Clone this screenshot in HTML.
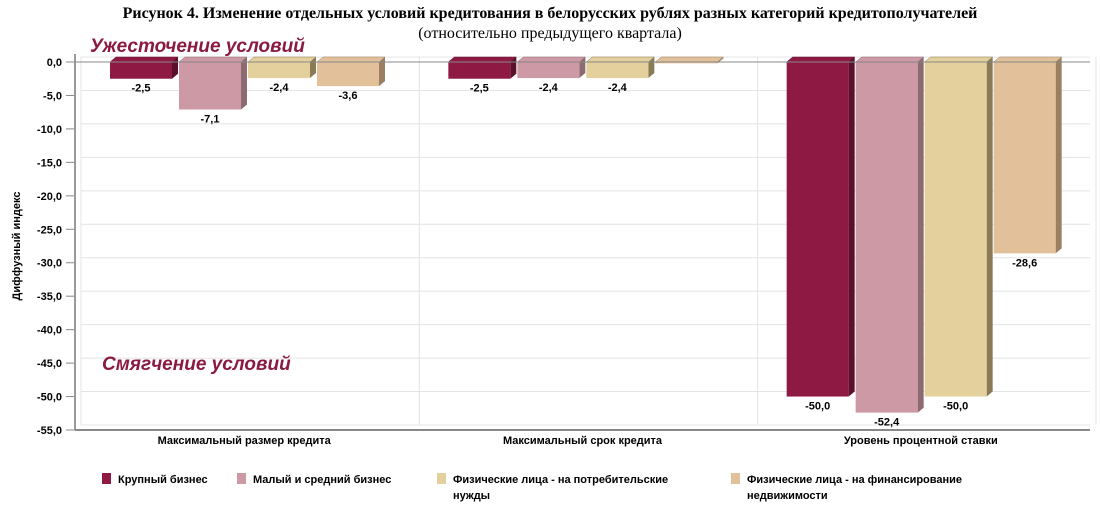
<!DOCTYPE html>
<html><head><meta charset="utf-8"><style>
body{margin:0;background:#fff;width:1100px;height:504px;overflow:hidden;font-family:"Liberation Sans",sans-serif}
svg text{font-family:"Liberation Sans",sans-serif}
</style></head><body>
<svg width="1100" height="504">
<text x="550" y="18" text-anchor="middle" font-family="Liberation Serif" font-weight="bold" font-size="16" style="font-family:'Liberation Serif',serif">Рисунок 4. Изменение отдельных условий кредитования в белорусских рублях разных категорий кредитополучателей</text>
<text x="550" y="38" text-anchor="middle" font-size="16" style="font-family:'Liberation Serif',serif">(относительно предыдущего квартала)</text>
<g id="grid"></g><g id="bars"></g><g id="axes"></g>
<text x="90" y="52" font-size="19" font-weight="bold" font-style="italic" fill="#8b1a42">Ужесточение условий</text>
<text x="102" y="370" font-size="19" font-weight="bold" font-style="italic" fill="#8b1a42">Смягчение условий</text>
<text transform="translate(20,246) rotate(-90)" text-anchor="middle" font-size="11" font-weight="bold">Диффузный индекс</text>
<g id="legend"></g>
</svg>
<script>
const categories=["Максимальный размер кредита","Максимальный срок кредита","Уровень процентной ставки"];
const seriesNames=["Крупный бизнес","Малый и средний бизнес","Физические лица - на потребительские|нужды","Физические лица - на финансирование|недвижимости"];
const s1=[-2.5,-2.5,-50.0];
const s2=[-7.1,-2.4,-52.4];
const s3=[-2.4,-2.4,-50.0];
const s4=[-3.6,-0.2,-28.6];
const yTicks=[0,-5,-10,-15,-20,-25,-30,-35,-40,-45,-50,-55];
const series=[s1,s2,s3,s4];
const colors=["#8e1a44","#cc99a5","#e3d09c","#e2c09a"];
const dark=["#5a0f2a","#8d6a72","#8a7a55","#9a8060"];
const NS="http://www.w3.org/2000/svg";
const L=75,R=1090,Y0=62,YB=430,dx=6,dy=5;
const y=v=>Y0+(0-v)*(YB-Y0)/55;
const gw=(R-L)/categories.length;
const bx=(c,i)=>L+c*gw+35+i*69;
function mk(p,t,a){const e=document.createElementNS(NS,t);for(const k in a)e.setAttribute(k,a[k]);p.appendChild(e);return e;}
const grid=document.getElementById('grid'),bars=document.getElementById('bars'),axes=document.getElementById('axes'),lg=document.getElementById('legend');
yTicks.forEach(t=>{
 const l=mk(grid,'line',{x1:L+dx,x2:R,y1:y(t)-dy,y2:y(t)-dy,stroke:'#e4e4e4'});
 
 
 const tx=mk(axes,'text',{x:62,y:y(t)+4,'text-anchor':'end','font-size':11,'font-weight':'bold'});
 tx.textContent=t.toFixed(1).replace('.',',');
 
 
 mk(axes,'line',{x1:66,x2:L,y1:y(t),y2:y(t),stroke:'#888'});
});
for(let c=0;c<=3;c++){const l=mk(grid,'line',{x1:L+c*gw+dx,x2:L+c*gw+dx,y1:Y0-dy,y2:YB-dy,stroke:'#e4e4e4'});}
mk(axes,'line',{x1:L,x2:L,y1:Y0-8,y2:YB,stroke:'#999','stroke-width':2});
mk(axes,'line',{x1:L,x2:R,y1:YB,y2:YB,stroke:'#888','stroke-width':2});
mk(axes,'line',{x1:L,x2:R,y1:Y0,y2:Y0,stroke:'#888'});
categories.forEach((c,ci)=>{
 const t=mk(axes,'text',{x:L+ci*gw+gw/2,y:YB+14,'text-anchor':'middle','font-size':11,'font-weight':'bold'});
 t.textContent=c;
 
 
 series.forEach((s,i)=>{
  const v=s[ci],x=bx(ci,i),w=62,top=y(0),bot=y(v);
  const g=mk(bars,'g',{});
  
  
  mk(g,'polygon',{points:`${x+w},${top} ${x+w+dx},${top-dy} ${x+w+dx},${bot-dy} ${x+w},${bot}`,fill:dark[i]});
  mk(g,'polygon',{points:`${x},${top} ${x+dx},${top-dy} ${x+w+dx},${top-dy} ${x+w},${top}`,fill:colors[i],stroke:dark[i],'stroke-width':0.5});
  mk(g,'rect',{x:x,y:top,width:w,height:Math.max(0,bot-top),fill:colors[i]});
  if(v<-1){const lb=mk(g,'text',{x:x+w/2,y:bot+13,'text-anchor':'middle','font-size':11,'font-weight':'bold'});lb.textContent=v.toFixed(1).replace('.',',');
  
  }
 });
});
const lx=[102,237,437,731];
seriesNames.forEach((n,i)=>{
 const g=mk(lg,'g',{});
 
 
 mk(g,'rect',{x:lx[i],y:473,width:9,height:11,fill:colors[i]});
 n.split('|').forEach((p,k)=>{const t=mk(g,'text',{x:lx[i]+16,y:483+k*16,'font-size':11,'font-weight':'bold'});t.textContent=p;});
});
</script>
</body></html>
